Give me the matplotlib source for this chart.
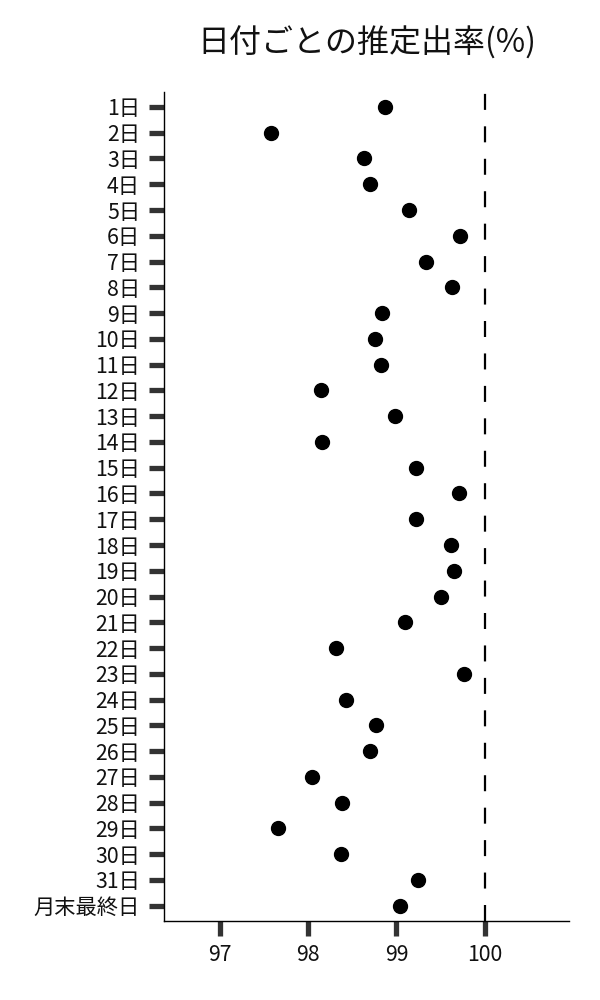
import matplotlib
matplotlib.use('Agg')
import matplotlib.pyplot as plt

plt.rcParams['font.family'] = ['Noto Sans CJK JP', 'DejaVu Sans']

# Data
days = [f'{i}日' for i in range(1, 32)] + ['月末最終日']
rate = [98.87, 97.58, 98.63, 98.70, 99.14, 99.72, 99.34, 99.63, 98.84, 98.76,
        98.82, 98.15, 98.98, 98.16, 99.22, 99.71, 99.22, 99.62, 99.65, 99.51,
        99.10, 98.31, 99.76, 98.43, 98.77, 98.70, 98.04, 98.38, 97.66, 98.37,
        99.24, 99.04]
xticks = [97, 98, 99, 100]
title = '日付ごとの推定出率(%)'

fig = plt.figure(figsize=(6, 10), dpi=100)
ax = fig.add_axes([0.274, 0.0793, 0.675, 0.8287])

ypos = list(range(len(days)))
ax.plot(rate, ypos, 'o', color='black', markersize=10, zorder=3)
ax.axvline(100, color='black', lw=1.6, dashes=(7.2, 7.4), zorder=2)

ax.set_xlim(96.37, 100.96)
ax.set_ylim(len(days) - 1 + 0.58, -0.58)
ax.set_xticks(xticks)
ax.set_xticklabels([str(v) for v in xticks])
ax.set_yticks(ypos)
ax.set_yticklabels(days)

ax.spines['top'].set_visible(False)
ax.spines['right'].set_visible(False)
ax.spines['left'].set_linewidth(1.0)
ax.spines['bottom'].set_linewidth(1.0)
ax.tick_params(axis='both', length=10.5, width=3.8, color='#333333',
               labelsize=15.3, labelcolor='#111111')
ax.tick_params(axis='y', pad=7)
ax.tick_params(axis='x', pad=6)

fig.text(0.611, 0.957, title, ha='center', va='center', fontsize=23, color='#111111')

fig.savefig('out.png', dpi=100)
